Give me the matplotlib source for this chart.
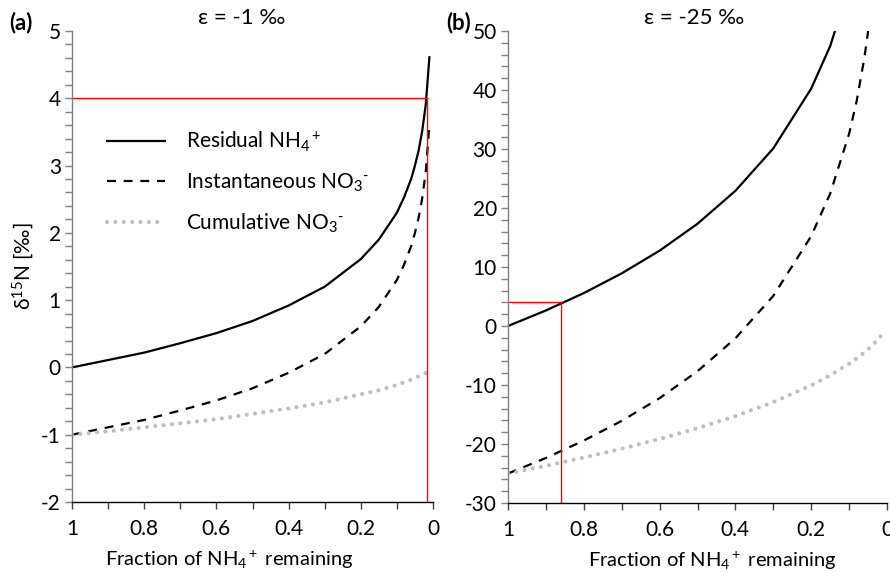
import matplotlib
matplotlib.use("Agg")
import matplotlib.pyplot as plt
from matplotlib.ticker import MultipleLocator, FixedLocator, FuncFormatter

plt.rcParams['font.family'] = ['Lato', 'DejaVu Sans']
plt.rcParams['mathtext.fontset'] = 'custom'
plt.rcParams['mathtext.rm'] = 'Lato'
plt.rcParams['mathtext.it'] = 'Lato:italic'
plt.rcParams['axes.unicode_minus'] = False

# Fraction of NH4+ remaining
f = [1, 0.9, 0.8, 0.7, 0.6, 0.5, 0.4, 0.3, 0.2, 0.15, 0.1, 0.08, 0.06, 0.05, 0.04, 0.03, 0.02, 0.01]

# Panel (a): eps = -1 permil
a_residual = [0, 0.11, 0.22, 0.36, 0.51, 0.69, 0.92, 1.20, 1.61, 1.90, 2.30, 2.53, 2.81, 3.00, 3.22, 3.51, 3.91, 4.61]
a_instant = [-1, -0.89, -0.78, -0.64, -0.49, -0.31, -0.08, 0.20, 0.61, 0.90, 1.30, 1.53, 1.81, 2.00, 2.22, 2.51, 2.91, 3.61]
a_cumul = [-1, -0.95, -0.89, -0.83, -0.77, -0.69, -0.61, -0.52, -0.40, -0.34, -0.26, -0.22, -0.18, -0.16, -0.13, -0.11, -0.08]
a_marker_f = 0.018
a_marker_d = 4

# Panel (b): eps = -25 permil
b_residual = [0, 2.63, 5.58, 8.92, 12.77, 17.33, 22.91, 30.10, 40.24, 47.43, 57.56]
b_instant = [-25, -22.37, -19.42, -16.08, -12.23, -7.67, -2.09, 5.10, 15.24, 22.43, 32.56, 38.14, 45.33, 49.89, 55.47]
b_cumul = [-25, -23.7, -22.3, -20.8, -19.15, -17.33, -15.27, -12.9, -10.06, -8.37, -6.4, -5.49, -4.49, -3.94, -3.35, -2.71, -2.0, -1.16]
b_marker_f = 0.86
b_marker_d = 4

labels = [r'Residual NH$_4$$^+$', r'Instantaneous NO$_3$$^{\text{-}}$', r'Cumulative NO$_3$$^{\text{-}}$']
titles = ['ε = -1 ‰', 'ε = -25 ‰']
xlabel = 'Fraction of NH$_4$$^+$ remaining'

fig = plt.figure(figsize=(8.9, 5.72), dpi=100)
axA = fig.add_axes([72/890, 70/572, 361/890, 471/572])
axB = fig.add_axes([508/890, 69/572, 379/890, 472/572])

grey_dot = '#bfbfbf'
FS = 15

def style(ax, ymin, ymax, ymaj, ymin_step, xlab_x):
    ax.set_xlim(1, 0)
    ax.set_ylim(ymin, ymax)
    for s in ['top', 'right']:
        ax.spines[s].set_visible(False)
    ax.spines['left'].set_color('#808080')
    ax.spines['bottom'].set_color('#000000')
    ax.spines['left'].set_linewidth(1.0)
    ax.spines['bottom'].set_linewidth(1.0)
    ax.xaxis.set_major_locator(FixedLocator([1, 0.9, 0.8, 0.7, 0.6, 0.5, 0.4, 0.3, 0.2, 0.1, 0]))
    ax.xaxis.set_major_formatter(FuncFormatter(
        lambda v, p: ('%g' % round(v, 1)) if abs(round(v * 10) % 2) < 1e-9 else ''))
    ax.yaxis.set_major_locator(MultipleLocator(ymaj))
    ax.yaxis.set_minor_locator(MultipleLocator(ymin_step))
    ax.tick_params(axis='x', direction='out', length=5, width=1, color='#404040',
                   labelsize=FS, pad=7)
    ax.tick_params(axis='y', which='both', direction='out', length=5, width=1,
                   color='#808080', labelsize=FS, pad=3)
    ax.set_xlabel(xlabel, fontsize=14.5)
    ax.xaxis.set_label_coords(xlab_x, -0.099)

# Panel a
axA.plot(f, a_residual, color='black', lw=1.6, label=labels[0])
axA.plot(f, a_instant, color='black', lw=1.6, ls=(0, (4, 3.5)), label=labels[1])
axA.plot(f[:len(a_cumul)], a_cumul, color=grey_dot, lw=3, ls=(0, (0.01, 2)),
         dash_capstyle='round', label=labels[2])
axA.plot([1, a_marker_f], [a_marker_d, a_marker_d], color='red', lw=1)
axA.plot([a_marker_f, a_marker_f], [-2, a_marker_d], color='red', lw=1)
style(axA, -2, 5, 1, 0.2, 0.435)
axA.set_ylabel('δ$^{15}$N [‰]', fontsize=FS, labelpad=4)
leg = axA.legend(loc='upper left', bbox_to_anchor=(0.045, 0.83), frameon=False,
                 fontsize=FS, handlelength=2.8, handletextpad=1.0, labelspacing=0.85)

# Panel b
axB.plot(f[:len(b_residual)], b_residual, color='black', lw=1.6)
axB.plot(f[:len(b_instant)], b_instant, color='black', lw=1.6, ls=(0, (4, 3.5)))
axB.plot(f[:len(b_cumul)], b_cumul, color=grey_dot, lw=3, ls=(0, (0.01, 2)),
         dash_capstyle='round')
axB.plot([1, b_marker_f], [b_marker_d, b_marker_d], color='red', lw=1)
axB.plot([b_marker_f, b_marker_f], [-30, b_marker_d], color='red', lw=1)
style(axB, -30, 50, 10, 2, 0.538)

fig.text(242/890, 1 - 18/572, titles[0], ha='center', va='center', fontsize=16)
fig.text(694/890, 1 - 18/572, titles[1], ha='center', va='center', fontsize=16)
fig.text(9/890, 1 - 23/572, '(a)', ha='left', va='center', fontsize=16, fontweight='bold')
fig.text(446/890, 1 - 23/572, '(b)', ha='left', va='center', fontsize=16, fontweight='bold')

fig.savefig('out.png', dpi=100)
